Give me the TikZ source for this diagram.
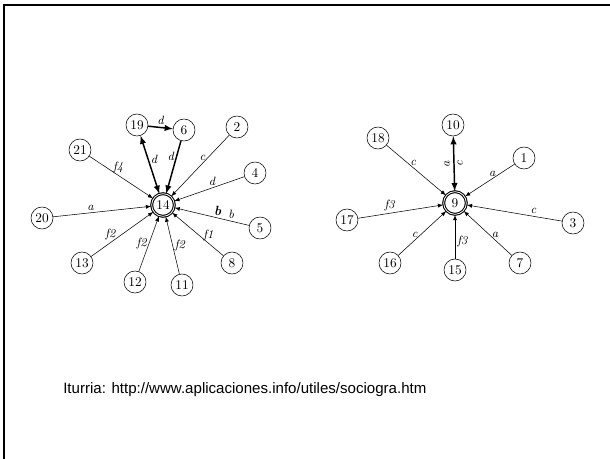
\documentclass[tikz,border=0pt]{standalone}
\usepackage{fontspec}
\newfontfamily\fuente{Liberation Sans}
\usetikzlibrary{arrows,calc}

\tikzset{
  alumno/.style={draw, circle, inner sep=0.5pt, minimum size=16.5pt, font=\normalsize},
  centro/.style={alumno, double, thick, minimum size=17pt},
  eleccion/.style={->, >=latex, thin},
  mutua/.style={<->, >=latex, line width=1.1pt},
  etq/.style={font=\small\itshape, inner sep=1.5pt}
}

\begin{document}
\begin{tikzpicture}[x=0.75pt, y=-0.75pt]
  \useasboundingbox (0,0) rectangle (610,459);
  \draw[line width=1.6pt] (610,5) -- (4,5) -- (4,459);

  % primer sociograma
  \node[centro] (n14) at (163,205) {14};
  \node[alumno] (n19) at (137,125) {19};
  \node[alumno] (n6) at (184,130) {6};
  \node[alumno] (n2) at (237,127) {2};
  \node[alumno] (n21) at (80,150) {21};
  \node[alumno] (n4) at (255,173) {4};
  \node[alumno] (n20) at (42,218) {20};
  \node[alumno] (n5) at (260,228) {5};
  \node[alumno] (n13) at (82,263) {13};
  \node[alumno] (n8) at (232,263) {8};
  \node[alumno] (n12) at (135,282) {12};
  \node[alumno] (n11) at (182,285) {11};

  \draw[eleccion, line width=1.1pt] (n19) -- node[etq, above] {d} (n6);
  \draw[mutua] (n14) -- node[etq, right, pos=0.6] {d} (n19);
  \draw[eleccion, line width=1.1pt] (n6) -- node[etq, left, pos=0.3] {d} (n14);
  \draw[eleccion] (n2) -- node[etq, above, pos=0.46] {c} (n14);
  \draw[eleccion] (n4) -- node[etq, above, pos=0.46] {d} (n14);
  \draw[eleccion] (n21) -- node[etq, above, pos=0.45] {f4} (n14);
  \draw[eleccion] (n20) -- node[etq, above, pos=0.38] {a} (n14);
  \draw[eleccion] (n5) -- node[etq, above, pos=0.24] {b}
    node[etq, above, pos=0.42, font=\normalsize\bfseries\itshape] {b} (n14);
  \draw[eleccion] (n13) -- node[etq, above, pos=0.31] {f2} (n14);
  \draw[eleccion] (n12) -- node[etq, left, pos=0.5] {f2} (n14);
  \draw[eleccion] (n11) -- node[etq, right, pos=0.5] {f2} (n14);
  \draw[eleccion] (n8) -- node[etq, above, pos=0.29] {f1} (n14);

  % segundo sociograma
  \node[centro] (n9) at (455,203) {9};
  \node[alumno] (n10) at (453,125) {10};
  \node[alumno] (n18) at (378,138) {18};
  \node[alumno] (n1) at (524,158) {1};
  \node[alumno] (n17) at (347,220) {17};
  \node[alumno] (n3) at (573,223) {3};
  \node[alumno] (n16) at (390,263) {16};
  \node[alumno] (n15) at (455,270) {15};
  \node[alumno] (n7) at (520,263) {7};

  \draw[mutua] (n10) -- (n9);
  \node[etq, rotate=90] (ea) at ($(n10)!0.5!(n9)+(-7,0)$) {a};
  \node[etq, rotate=90] (ec) at ($(n10)!0.5!(n9)+(6,0)$) {c};
  \draw[eleccion] (n18) -- node[etq, above, pos=0.45] {c} (n9);
  \draw[eleccion] (n1) -- node[etq, above, pos=0.45] {a} (n9);
  \draw[eleccion] (n17) -- node[etq, above, pos=0.37] {f3} (n9);
  \draw[eleccion] (n3) -- node[etq, above, pos=0.3] {c} (n9);
  \draw[eleccion] (n16) -- node[etq, above, pos=0.34] {c} (n9);
  \draw[eleccion] (n15) -- node[etq, right, pos=0.4] {f3} (n9);
  \draw[eleccion] (n7) -- node[etq, above, pos=0.35] {a} (n9);

  \node[anchor=west, font=\fuente\fontsize{11.3}{13}\selectfont, inner sep=0pt] (cita) at (63,390)
    {Iturria: http://www.aplicaciones.info/utiles/sociogra.htm};
\end{tikzpicture}
\end{document}
